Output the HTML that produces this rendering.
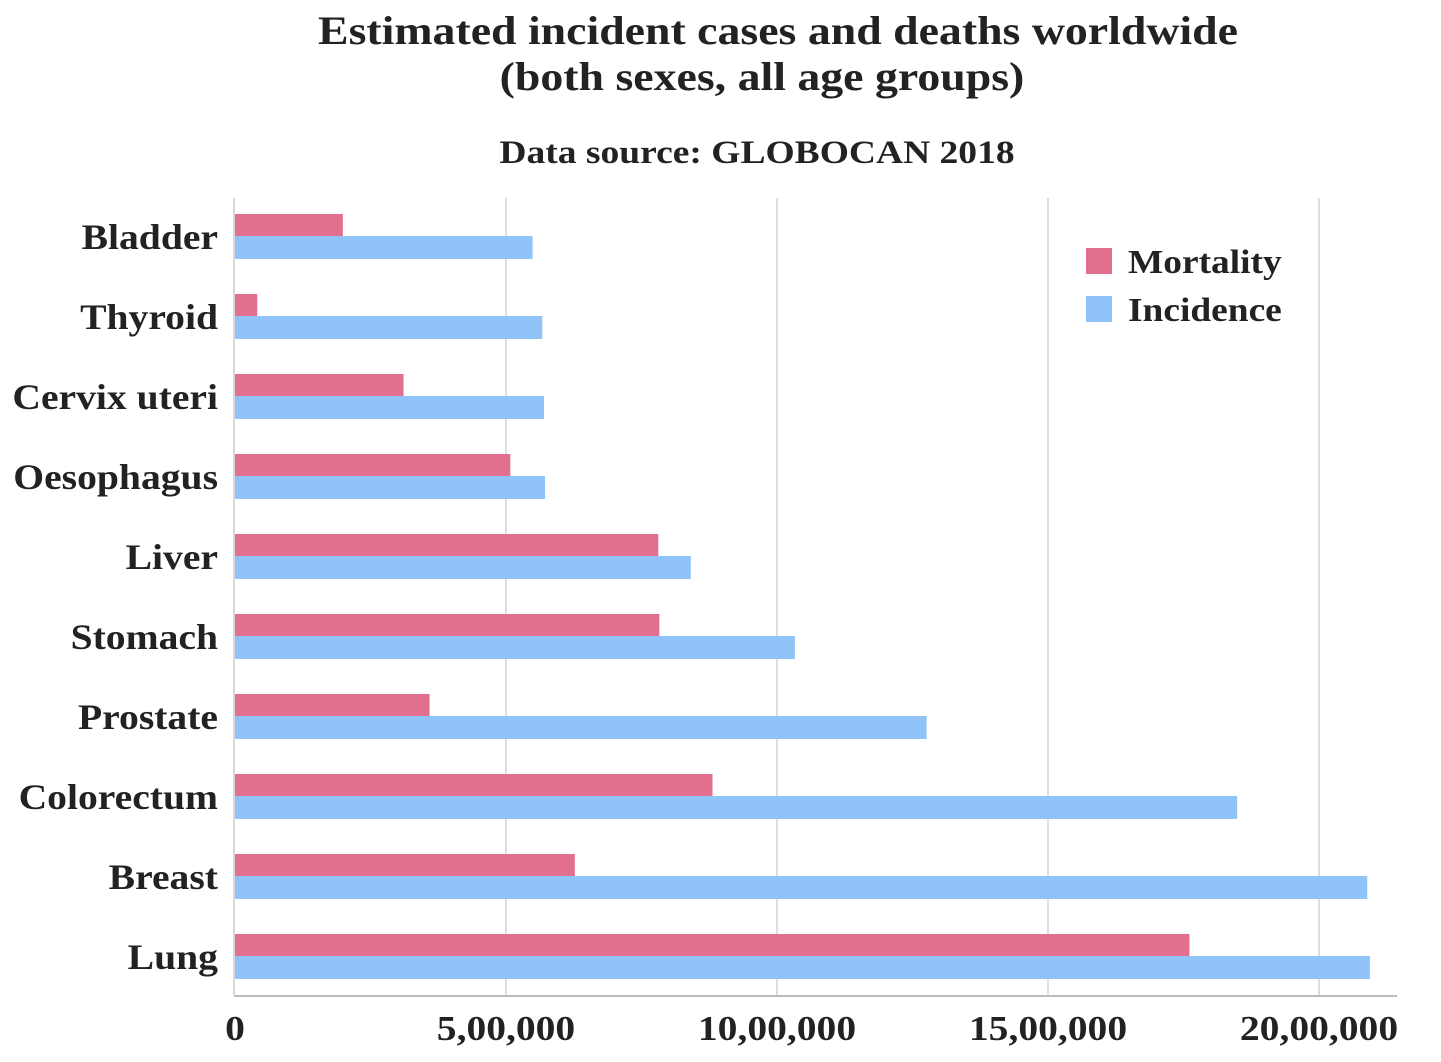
<!DOCTYPE html>
<html><head><meta charset="utf-8"><style>
body{margin:0;background:#fff}
svg text{font-family:"Liberation Serif",serif;font-weight:bold;fill:#222}
</style></head><body>
<svg id="chart" width="1441" height="1057">
<text class="w" data-f="1.145" x="778" y="44" font-size="40" text-anchor="middle">Estimated incident cases and deaths worldwide</text>
<text class="w" data-f="1.145" x="762" y="90" font-size="40" text-anchor="middle">(both sexes, all age groups)</text>
<text class="w" data-f="1.137" x="757" y="163" font-size="33" text-anchor="middle">Data source: GLOBOCAN 2018</text>
<g id="grid"></g><g id="bars"></g><g id="labels"></g>
<g>
<rect x="1086" y="248" width="26" height="26" fill="#e36f8f"/>
<text class="w" data-f="1.1" x="1128" y="273" font-size="34">Mortality</text>
<rect x="1086" y="296" width="26" height="26" fill="#90c3f7"/>
<text class="w" data-f="1.1" x="1128" y="321" font-size="34">Incidence</text>
</g>
</svg>
<script>
const categories=["Bladder","Thyroid","Cervix uteri","Oesophagus","Liver","Stomach","Prostate","Colorectum","Breast","Lung"];
const mortality=[199000,41000,311000,508000,781000,783000,359000,881000,627000,1761000];
const incidence=[549000,567000,570000,572000,841000,1033000,1276000,1849000,2089000,2094000];
const ticks=[0,500000,1000000,1500000,2000000];
const tickLabels=["0","5,00,000","10,00,000","15,00,000","20,00,000"];
const NS="http://www.w3.org/2000/svg";
const x0=235,xScale=1084/2000000,top0=197,band=80,bottom=996;
const xs=v=>x0+v*xScale;
function mk(t,a,p){const e=document.createElementNS(NS,t);for(const k in a)e.setAttribute(k,a[k]);p.appendChild(e);return e;}
const grid=document.getElementById('grid'),bars=document.getElementById('bars'),labels=document.getElementById('labels');
ticks.forEach((t,i)=>{
 if(i>0){const g=mk('line',{x1:xs(t),x2:xs(t),y1:198,y2:bottom,stroke:'#d4d4d4','stroke-width':1.5},grid);
 
 }
 const tx=mk('text',{x:xs(t),y:1040,'font-size':35,'text-anchor':'middle',class:'w','data-f':'1.13'},labels);
 tx.textContent=tickLabels[i];
 
 
});
const ax=mk('line',{x1:234,x2:1397,y1:bottom,y2:bottom,stroke:'#bbb','stroke-width':2},grid);


const ay=mk('line',{x1:234,x2:234,y1:198,y2:bottom,stroke:'#ccc','stroke-width':1.5},grid);


categories.forEach((c,i)=>{
 const cy=top0+band*i+band/2;
 const m=mk('rect',{x:x0,y:cy-23,width:xs(mortality[i])-x0,height:22,fill:'#e36f8f'},bars);
 
 
 const n=mk('rect',{x:x0,y:cy-1,width:xs(incidence[i])-x0,height:23,fill:'#90c3f7'},bars);
 
 
 const l=mk('text',{x:218,y:cy+12,'font-size':36,'text-anchor':'end',class:'w','data-f':'1.1'},labels);
 l.textContent=c;
 
 
});
document.querySelectorAll('text.w').forEach(t=>{
 const w=t.getComputedTextLength();
 t.setAttribute('textLength',(w*parseFloat(t.getAttribute('data-f'))).toFixed(1));
 t.setAttribute('lengthAdjust','spacingAndGlyphs');
});
</script>
</body></html>
